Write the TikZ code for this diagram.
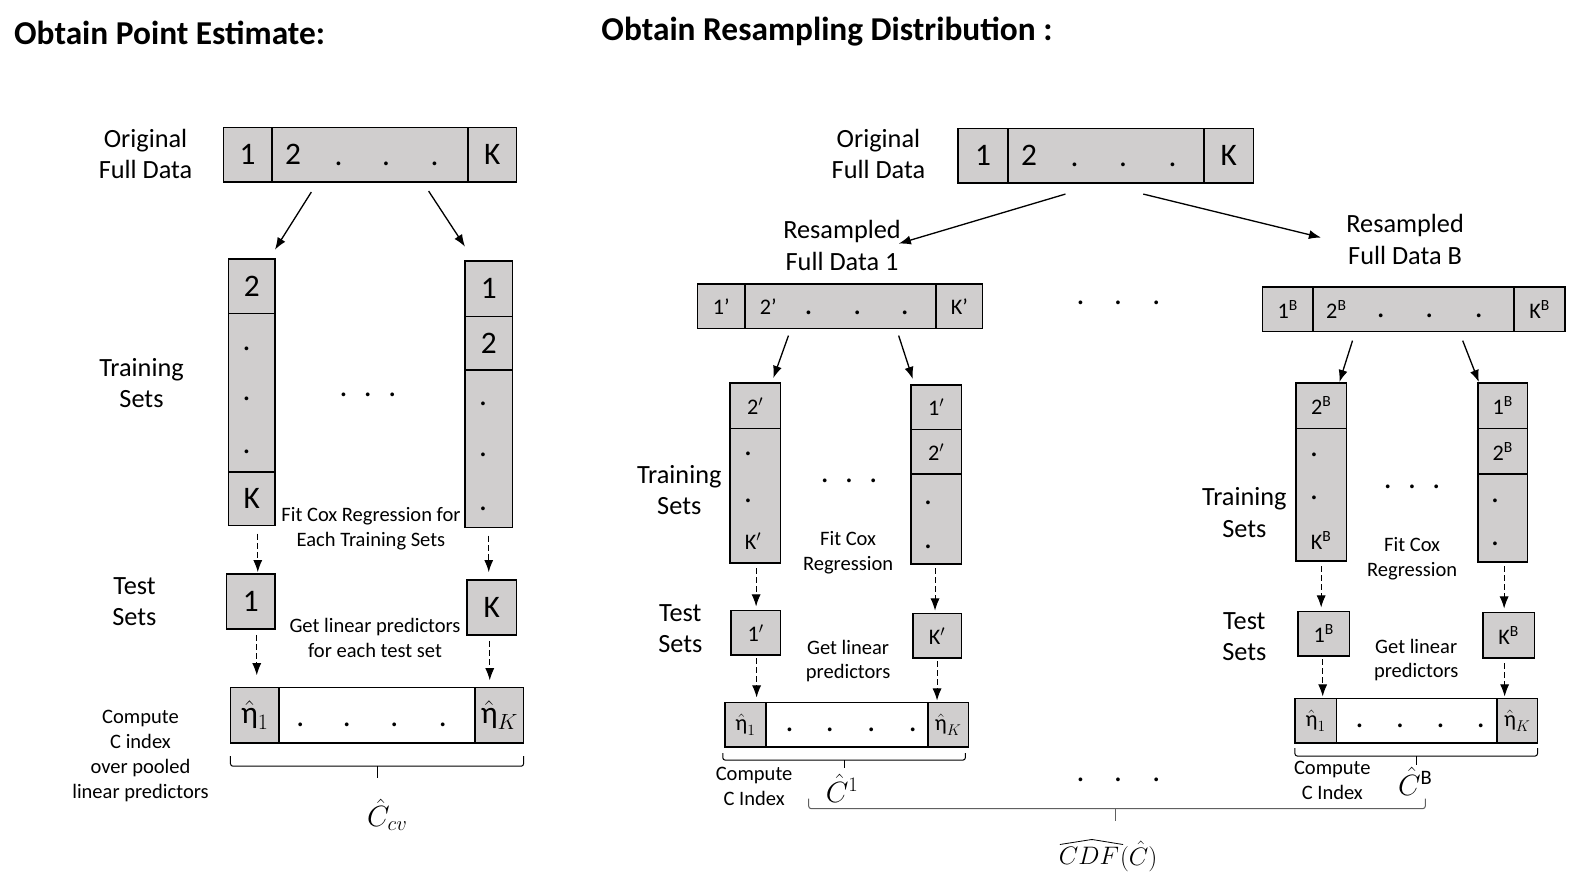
\RequirePackage{fix-cm}
\documentclass[tikz,border=0pt]{standalone}
\usepackage{amsmath}
\usepackage{fontspec}
\setmainfont{Carlito}
\usetikzlibrary{arrows.meta}
\definecolor{cellgray}{RGB}{208,206,206}
\newcommand{\fsz}[2]{\fontsize{#1}{#2}\selectfont}
\newcommand{\supB}[1]{#1\textsuperscript{B}}
\newcommand{\prm}[1]{#1$'$}
\newcommand{\etah}[1]{$\hat{\text{η}}_{#1}$}

\begin{document}
\begin{tikzpicture}[x=1pt, y=-1pt,
  every node/.style = {inner sep=0pt, outer sep=0pt},
  ttl/.style = {font=\fsz{33}{38}\bfseries, anchor=west},
  lbl/.style = {font=\fsz{26}{31}, align=center},
  note/.style = {font=\fsz{20.3}{24.5}, align=center},
  cell/.style 2 args = {draw, line width=1.6pt, fill=cellgray, minimum width=#1pt, minimum height=#2pt, font=\fsz{31}{31}},
  scell/.style 2 args = {cell={#1}{#2}, font=\fsz{22}{22}},
  wcell/.style 2 args = {scell={#1}{#2}, fill=white},
  big/.style = {font=\fsz{31}{31}},
  sml/.style = {font=\fsz{22}{22}},
  dot/.style = {font=\fsz{31}{31}},
  mth/.style = {font=\fsz{29}{32}},
  arr/.style = {line width=1.3pt, -{Latex[length=12pt, width=9pt]}},
  darr/.style = {line width=1pt, dash pattern=on 6pt off 3pt, -{Latex[length=12pt, width=9pt]}},
  brc/.style = {line width=1pt, rounded corners=2.5pt}
]
  \useasboundingbox (0,0) rectangle (1568,866);

  \node[ttl] (ttlpt) at (14,33) {Obtain Point Estimate:};
  \node[ttl] (ttlrs) at (595,31) {Obtain Resampling Distribution :};

  % ---------- point estimate ----------
  \node[lbl] (lorig) at (144,152) {Original\\Full Data};
  \node[cell={48}{54}] (lo1) at (245,153) {1};
  \node[cell={194}{54}] (lo2) at (366,153) {};
  \node[cell={48}{54}] (lo3) at (487,153) {K};
  \node[big] (lo2t) at (290,153) {2};
  \foreach \x in {335,382,430} \node[dot] at (\x,162) {.};

  \node[cell={46}{54}] (lt1a) at (249,283) {2};
  \node[cell={46}{157}] (lt1b) at (249,388.5) {};
  \node[cell={46}{53}] (lt1c) at (249,493.5) {K};
  \foreach \y in {345,395,447} \node[dot] at (244,\y) {.};
  \node[cell={47}{55}] (ltKa) at (483.5,285.5) {1};
  \node[cell={47}{53}] (ltKb) at (483.5,339.5) {2};
  \node[cell={47}{156}] (ltKc) at (483.5,444) {};
  \foreach \y in {400,450,503} \node[dot] at (478,\y) {.};

  \coordinate (lsa) at (308,190);
  \coordinate (lsb) at (424,189);
  \draw[arr] (lsa) -- ([yshift=9pt]lt1a.north east);
  \draw[arr] (lsb) -- ([yshift=14pt]ltKa.north west);

  \node[lbl] (ltrain) at (140,379) {Training\\Sets};
  \foreach \x in {340,364,388} \node[dot] at (\x,391) {.};
  \node[note] (lfit) at (367,523) {Fit Cox Regression for\\Each Training Sets};

  \node[cell={48}{54}] (lte1) at (248,595) {1};
  \node[cell={49}{54}] (lteK) at (486.5,601) {K};
  \draw[darr] ([xshift=6pt, yshift=-8pt]lt1c.south) -- ([xshift=6pt, yshift=2pt]lt1c.south |- lte1.north);
  \draw[darr] ([yshift=-8pt]ltKc.south) -- ([yshift=8pt]ltKc.south |- lteK.north);
  \node[lbl] (ltest) at (133,595) {Test\\Sets};
  \node[note] (lget) at (371,631) {Get linear predictors\\for each test set};

  \node[cell={48}{55}, font=\fsz{31}{31}] (lb1) at (252,707.5) {\etah{1}};
  \node[cell={194}{55}, fill=white] (lb2) at (373,707.5) {};
  \node[cell={48}{55}, font=\fsz{31}{31}] (lb3) at (494,707.5) {\etah{K}};
  \foreach \x in {297,343,390,438} \node[dot] at (\x,717) {.};
  \draw[darr] ([xshift=6pt, yshift=-6pt]lte1.south) -- ([xshift=6pt, yshift=12pt]lte1.south |- lb1.north);
  \draw[darr] ([xshift=-2pt, yshift=-6pt]lteK.south) -- ([xshift=-2pt, yshift=7pt]lteK.south |- lb3.north);

  \draw[brc] ([yshift=-13pt]lb1.south west) -- ([yshift=-23pt]lb1.south west) -- ([yshift=-23pt]lb3.south east) -- ([yshift=-13pt]lb3.south east);
  \draw[brc] ([yshift=-23pt]lb2.south) -- ([yshift=-35pt]lb2.south);
  \node[note] (lcomp) at (139,748) {Compute\\C index\\over pooled\\linear predictors};
  \node[mth] (lccv) at (383,806) {$\hat{C}_{cv}$};

  % ---------- resampling distribution ----------
  \node[lbl] (morig) at (869,152) {Original\\Full Data};
  \node[cell={49}{54}] (mo1) at (972.5,154) {1};
  \node[cell={194}{54}] (mo2) at (1094,154) {};
  \node[cell={49}{54}] (mo3) at (1215.5,154) {K};
  \node[big] (mo2t) at (1018,154) {2};
  \foreach \x in {1063,1111,1160} \node[dot] at (\x,163) {.};

  \node[lbl] (mres1) at (833,243) {Resampled\\Full Data 1};
  \node[lbl] (mresB) at (1390,237) {Resampled\\Full Data B};
  \coordinate (msa) at (1054,192);
  \coordinate (msb) at (1131,192);
  \draw[arr] (msa) -- ([xshift=-2pt, yshift=2pt]mres1.east);
  \draw[arr] (msb) -- ([xshift=-25pt, yshift=2pt]mresB.west);
  \foreach \x in {1069,1106,1144} \node[dot] at (\x,300) {.};

  % resample 1
  \node[scell={47}{44}] (r1a) at (713.5,303) {1’};
  \node[scell={189}{44}] (r1b) at (831.5,303) {};
  \node[scell={46}{44}] (r1c) at (949,303) {K’};
  \node[sml] (r1t) at (760,303) {2’};
  \foreach \x in {800,848,895} \node[dot] at (\x,309) {.};

  \node[scell={50}{45}] (p1a) at (747,401.5) {\prm{2}};
  \node[scell={50}{133}] (p1b) at (747,490.5) {};
  \foreach \y in {449,495} \node[dot] at (740,\y) {.};
  \node[sml] (p1t) at (745,535) {\prm{K}};
  \node[scell={50}{44}] (p2a) at (926,403) {\prm{1}};
  \node[scell={50}{44}] (p2b) at (926,447) {\prm{2}};
  \node[scell={50}{89}] (p2c) at (926,513.5) {};
  \foreach \y in {497,541} \node[dot] at (918,\y) {.};

  \coordinate (rsa) at (780,332);
  \coordinate (rsb) at (889,332);
  \draw[arr] (rsa) -- ([xshift=-7pt, yshift=5pt]p1a.north east);
  \draw[arr] (rsb) -- ([xshift=2pt, yshift=6pt]p2a.north west);

  \node[lbl] (mtrain) at (672,485) {Training\\Sets};
  \foreach \x in {816,840,864} \node[dot] at (\x,476) {.};
  \node[note] (mfit) at (839,547) {Fit Cox\\Regression};

  \node[scell={49}{44}] (q1a) at (747.5,626) {\prm{1}};
  \node[scell={48}{44}] (q1b) at (927,629) {\prm{K}};
  \draw[darr] ([xshift=1pt, yshift=-5pt]p1b.south) -- ([xshift=1pt, yshift=4pt]p1b.south |- q1a.north);
  \draw[darr] ([xshift=-1pt, yshift=-4pt]p2c.south) -- ([xshift=-1pt, yshift=3pt]p2c.south |- q1b.north);
  \node[lbl] (mtest) at (673,622) {Test\\Sets};
  \node[note] (mget) at (839,654) {Get linear\\predictors};

  \node[scell={41}{44}] (e1a) at (737.5,717) {\etah{1}};
  \node[wcell={160}{44}] (e1b) at (838,717) {};
  \node[scell={40}{44}] (e1c) at (938,717) {\etah{K}};
  \foreach \x in {781,821,862,903} \node[dot] at (\x,722) {.};
  \draw[darr] ([xshift=1pt, yshift=-3pt]q1a.south) -- ([xshift=1pt, yshift=5pt]q1a.south |- e1a.north);
  \draw[darr] ([yshift=-3pt]q1b.south) -- ([yshift=2pt]q1b.south |- e1c.north);

  \draw[brc] ([xshift=-2pt, yshift=-6pt]e1a.south west) -- ([xshift=-2pt, yshift=-13pt]e1a.south west) -- ([xshift=-3pt, yshift=-13pt]e1c.south east) -- ([xshift=-3pt, yshift=-6pt]e1c.south east);
  \draw[brc] ([xshift=-3pt, yshift=-13pt]e1b.south) -- ([xshift=-3pt, yshift=-21pt]e1b.south);
  \node[note] (mcomp) at (746,778) {Compute\\C Index};
  \node[mth] (mc1) at (833,780) {$\hat{C}^1$};

  % resample B
  \node[scell={50}{44}] (rBa) at (1274,306) {\supB{1}};
  \node[scell={199}{44}] (rBb) at (1398.5,306) {};
  \node[scell={50}{44}] (rBc) at (1523,306) {\supB{K}};
  \node[sml] (rBt) at (1322,306) {\supB{2}};
  \foreach \x in {1366,1414,1463} \node[dot] at (\x,312) {.};

  \node[scell={50}{45}] (g1a) at (1307,401.5) {\supB{2}};
  \node[scell={50}{131}] (g1b) at (1307,489.5) {};
  \foreach \y in {450,493} \node[dot] at (1300,\y) {.};
  \node[sml] (g1t) at (1307,535) {\supB{K}};
  \node[scell={49}{45}] (g2a) at (1486.5,401.5) {\supB{1}};
  \node[scell={49}{45}] (g2b) at (1486.5,446.5) {\supB{2}};
  \node[scell={49}{87}] (g2c) at (1486.5,512.5) {};
  \foreach \y in {495,538} \node[dot] at (1479,\y) {.};

  \coordinate (bsa) at (1338,337);
  \coordinate (bsb) at (1447,337);
  \draw[arr] (bsa) -- ([xshift=-7pt, yshift=1pt]g1a.north east);
  \draw[arr] (bsb) -- ([xshift=1pt, yshift=1pt]g2a.north west);

  \node[lbl] (btrain) at (1231,507) {Training\\Sets};
  \foreach \x in {1373,1397,1421} \node[dot] at (\x,482) {.};
  \node[note] (bfit) at (1397,553) {Fit Cox\\Regression};

  \node[scell={51}{44}] (h1a) at (1309.5,627) {\supB{1}};
  \node[scell={51}{45}] (h1b) at (1492.5,628.5) {\supB{K}};
  \draw[darr] ([yshift=-5pt]g1b.south) -- ([yshift=4pt]g1b.south |- h1a.north);
  \draw[darr] ([xshift=1.5pt, yshift=-4pt]g2c.south) -- ([xshift=1.5pt, yshift=4pt]g2c.south |- h1b.north);
  \node[lbl] (btest) at (1231,630) {Test\\Sets};
  \node[note] (bget) at (1401,653) {Get linear\\predictors};

  \node[scell={41}{44}] (k1a) at (1301.5,713) {\etah{1}};
  \node[wcell={159}{44}] (k1b) at (1401.5,713) {};
  \node[scell={40}{44}] (k1c) at (1501,713) {\etah{K}};
  \foreach \x in {1345,1385,1425,1465} \node[dot] at (\x,718) {.};
  \draw[darr] ([xshift=-1pt, yshift=-3pt]h1a.south) -- ([xshift=-1pt, yshift=2pt]h1a.south |- k1a.north);
  \draw[darr] ([xshift=-4pt, yshift=-5pt]h1b.south) -- ([xshift=-4pt, yshift=2pt]h1b.south |- k1c.north);

  \draw[brc] ([yshift=-5pt]k1a.south west) -- ([yshift=-13pt]k1a.south west) -- ([yshift=-13pt]k1c.south east) -- ([yshift=-5pt]k1c.south east);
  \draw[brc] ([yshift=-13pt]k1b.south) -- ([yshift=-22pt]k1b.south);
  \node[note] (bcomp) at (1318,772) {Compute\\C Index};
  \node[mth] (bcB) at (1400,773) {$\hat{C}^{\mathrm{B}}$};

  % collect all resamples
  \foreach \x in {1069,1106,1144} \node[dot] at (\x,771) {.};
  \coordinate (cdfl) at (800,790);
  \coordinate (cdfr) at (1410,790);
  \coordinate (cdfm) at (1104,800);
  \draw[brc, gray!75!black] (cdfl) -- ++(0,10) -- ([yshift=-10pt]cdfr) -- (cdfr);
  \draw[brc, gray!75!black] (cdfm) -- ++(0,12);
  \node[mth, font=\fsz{25}{28}, anchor=east] (cdfa) at (1107,847) {$CDF$};
  \node[mth, font=\fsz{25}{28}, anchor=west] (cdfb) at ([xshift=1pt]cdfa.east) {$(\hat{C})$};
  \draw[line width=0.8pt, rounded corners=1pt] ([xshift=1pt, yshift=3pt]cdfa.north west) -- ([xshift=3pt, yshift=8pt]cdfa.north) -- ([xshift=4pt, yshift=3pt]cdfa.north east);
\end{tikzpicture}
\end{document}
